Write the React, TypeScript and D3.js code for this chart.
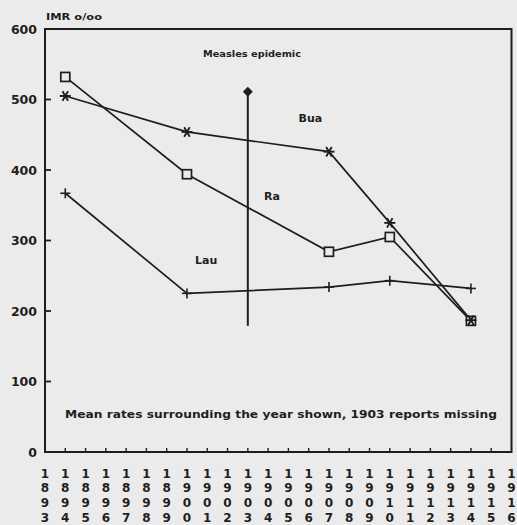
import React from "react";
import * as d3 from "d3";

const yearTicks = d3.range(1893, 1917);
const yTicks = [0, 100, 200, 300, 400, 500, 600];
const dataYears = [1894, 1900, 1907, 1910, 1914];
const bua = [505, 454, 426, 325, 187];
const ra = [532, 394, 284, 305, 186];
const lau = [367, 225, 234, 243, 232];
const measlesYear = 1903;
const measlesRange = [179, 511];
const seriesLabels = [
  { name: "Bua", year: 1905.5, value: 468 },
  { name: "Ra", year: 1903.8, value: 357 },
  { name: "Lau", year: 1900.4, value: 267 },
];

const W = 517;
const H = 525;
const INK = "#1e1e1e";
const BG = "#ebebeb";
const FONT = "'DejaVu Sans', sans-serif";

export default function App() {
  const x = d3.scaleLinear().domain([1893, 1916]).range([45, 511.5]);
  const y = d3.scaleLinear().domain([0, 600]).range([452, 29]);
  const line = d3
    .line<[number, number]>()
    .x((d) => x(d[0]))
    .y((d) => y(d[1]));
  const pts = (vals: number[]) => dataYears.map((yr, i) => [yr, vals[i]] as [number, number]);

  const star = (cx: number, cy: number, k: string) => {
    const r = 5.5;
    const angs = [0, 60, 120];
    return (
      <g key={k}>
        {angs.map((a) => {
          const rad = (a * Math.PI) / 180;
          return (
            <line
              key={a}
              x1={cx - r * Math.cos(rad)}
              y1={cy - r * Math.sin(rad)}
              x2={cx + r * Math.cos(rad)}
              y2={cy + r * Math.sin(rad)}
              stroke={INK}
              strokeWidth={1.9}
            />
          );
        })}
      </g>
    );
  };
  const plus = (cx: number, cy: number, k: string) => (
    <g key={k}>
      <line x1={cx - 5} x2={cx + 5} y1={cy} y2={cy} stroke={INK} strokeWidth={1.6} />
      <line x1={cx} x2={cx} y1={cy - 5} y2={cy + 5} stroke={INK} strokeWidth={1.6} />
    </g>
  );
  const square = (cx: number, cy: number, k: string) => (
    <rect key={k} x={cx - 4.5} y={cy - 4.5} width={9} height={9} fill={BG} stroke={INK} strokeWidth={1.7} />
  );

  return (
    <div style={{ position: "absolute", left: 0, top: 0 }}>
      <svg width={W} height={H} style={{ display: "block", background: BG }}>
        <rect x={0} y={0} width={W} height={H} fill={BG} />
        {/* frame */}
        <rect x={x(1893)} y={y(600)} width={x(1916) - x(1893)} height={y(0) - y(600)} fill="none" stroke={INK} strokeWidth={2} />
        {/* y ticks */}
        {yTicks.map((t) => (
          <g key={t}>
            {t > 0 && t < 600 && (
              <line x1={x(1893) - 1} x2={x(1893) + 6} y1={y(t)} y2={y(t)} stroke={INK} strokeWidth={1.8} />
            )}
            <text x={37} y={y(t)} dy="0.36em" textAnchor="end" fontFamily={FONT} fontWeight="bold" fontSize={12.5} fill={INK}>
              {t}
            </text>
          </g>
        ))}
        <text x={46} y={20} fontFamily={FONT} fontWeight="bold" fontSize={9} fill={INK} textLength={56} lengthAdjust="spacingAndGlyphs">
          IMR o/oo
        </text>
        {/* x ticks and labels */}
        {yearTicks.map((yr) => {
          const s = String(yr).split("");
          return (
            <g key={yr}>
              {yr > 1893 && yr < 1916 && (
                <line x1={x(yr)} x2={x(yr)} y1={y(0)} y2={y(0) - 4} stroke={INK} strokeWidth={1.4} />
              )}
              {s.map((c, i) => (
                <text
                  key={i}
                  x={x(yr)}
                  y={477.5 + i * 14.7}
                  textAnchor="middle"
                  fontFamily={FONT}
                  fontWeight="bold"
                  fontSize={12}
                  fill={INK}
                >
                  {c}
                </text>
              ))}
            </g>
          );
        })}
        {/* measles epidemic marker */}
        <line x1={x(measlesYear)} x2={x(measlesYear)} y1={y(measlesRange[0])} y2={y(measlesRange[1])} stroke={INK} strokeWidth={2} />
        <path
          d={`M${x(measlesYear)},${y(measlesRange[1]) - 5} l5,5 l-5,5 l-5,-5 Z`}
          fill={INK}
        />
        <text x={203} y={57} fontFamily={FONT} fontWeight="bold" fontSize={8} fill={INK} textLength={98} lengthAdjust="spacingAndGlyphs">
          Measles epidemic
        </text>
        {/* series lines */}
        {[bua, ra, lau].map((vals, i) => (
          <path key={i} d={line(pts(vals)) || ""} fill="none" stroke={INK} strokeWidth={1.7} />
        ))}
        {pts(lau).map((p, i) => plus(x(p[0]), y(p[1]), "l" + i))}
        {pts(ra).map((p, i) => square(x(p[0]), y(p[1]), "r" + i))}
        {pts(bua).map((p, i) => star(x(p[0]), y(p[1]), "b" + i))}
        {/* series labels */}
        {seriesLabels.map((l) => (
          <text key={l.name} x={x(l.year)} y={y(l.value)} fontFamily={FONT} fontWeight="bold" fontSize={11} fill={INK}>
            {l.name}
          </text>
        ))}
        <text x={65} y={418} fontFamily={FONT} fontWeight="bold" fontSize={10} fill={INK} textLength={432} lengthAdjust="spacingAndGlyphs">
          Mean rates surrounding the year shown, 1903 reports missing
        </text>
      </svg>
    </div>
  );
}
